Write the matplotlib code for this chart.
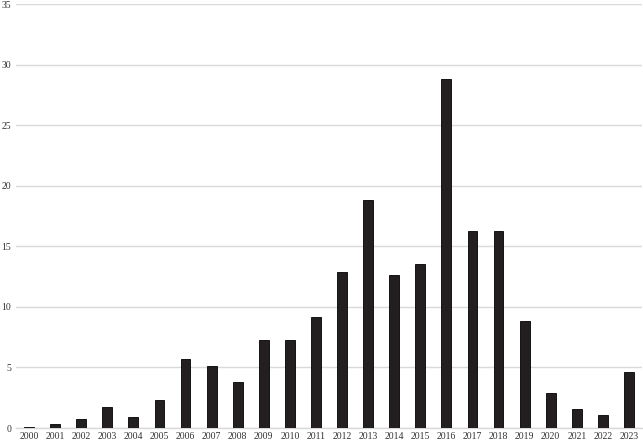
import matplotlib
matplotlib.use("Agg")
import matplotlib.pyplot as plt

years = [str(y) for y in range(2000, 2024)]
values = [0.1, 0.3, 0.75, 1.75, 0.9, 2.3, 5.7, 5.15, 3.8, 7.3, 7.3, 9.2,
          12.9, 18.85, 12.6, 13.5, 28.85, 16.3, 16.25, 8.8, 2.85, 1.6, 1.05, 4.6]
yticks = [0, 5, 10, 15, 20, 25, 30, 35]

plt.rcParams['font.family'] = ['Liberation Serif', 'DejaVu Serif']

fig = plt.figure(figsize=(6.43, 4.44), dpi=100)
ax = fig.add_axes([16/643, 1 - 428/444, 626/643, 424/444])
x = list(range(len(years)))
ax.bar(x, values, width=0.38, color='#231f20', edgecolor='black', linewidth=0.6, zorder=3)
ax.set_xlim(-0.5, len(years) - 0.5)
ax.set_ylim(0, 35)
ax.set_yticks(yticks)
ax.set_yticklabels([str(t) for t in yticks], fontsize=7)
ax.set_xticks(x)
ax.set_xticklabels(years, fontsize=7)
ax.yaxis.grid(True, color='#d9d9d9', linewidth=1.0, zorder=0)
for s in ['top', 'right', 'left']:
    ax.spines[s].set_visible(False)
ax.spines['bottom'].set_color('#d9d9d9')
ax.spines['bottom'].set_linewidth(1.0)
ax.tick_params(axis='both', length=0, colors='#333333', pad=3)
ax.tick_params(axis='y', pad=3.5)
fig.savefig('out.png', dpi=100)
